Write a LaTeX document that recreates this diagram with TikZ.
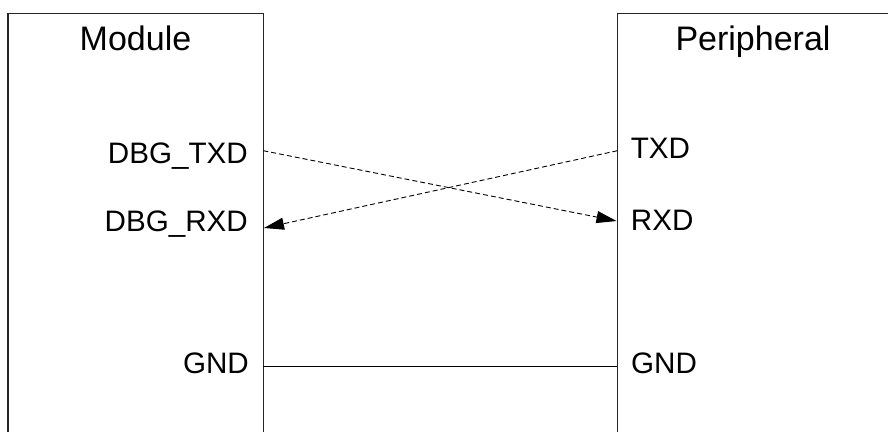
\documentclass[tikz,border=0pt]{standalone}
\usepackage{fontspec}
\setmainfont{Liberation Sans}
\usetikzlibrary{arrows.meta}
\begin{document}
\begin{tikzpicture}[x=1bp,y=-1bp,
  boxline/.style={line width=1.2bp, draw=black!85},
  title/.style={inner sep=0pt, font=\fontsize{34bp}{40bp}\selectfont},
  pin/.style={inner sep=0pt, font=\fontsize{29.6bp}{35bp}\selectfont},
  sig/.style={line width=0.9bp, dash pattern=on 5bp off 3bp, -{Triangle[length=20bp,width=12bp]}},
  gndline/.style={line width=1bp}]
\useasboundingbox (0,0) rectangle (888,431);
% boxes
\draw[boxline] (8,433) -- (8,13.5) -- (263.3,13.5) -- (263.3,433);
\draw[boxline] (617.3,433) -- (617.3,13.5) -- (890,13.5);
% titles
\node[title, anchor=base] (mod) at (135.5,50) {Module};
\node[title, anchor=base] (per) at (753,50) {Peripheral};
% pin labels
\node[pin, anchor=base east] (ltx) at (248,163) {DBG\_TXD};
\node[pin, anchor=base east] (lrx) at (248,231) {DBG\_RXD};
\node[pin, anchor=base east] (lgnd) at (249,373) {GND};
\node[pin, anchor=base west] (rtx) at (630.7,158) {TXD};
\node[pin, anchor=base west] (rrx) at (630.7,230) {RXD};
\node[pin, anchor=base west] (rgnd) at (631,373) {GND};
% pin points
\coordinate (pltx) at (263.3,150.7);
\coordinate (plrx) at (264,228);
\coordinate (plgnd) at (263.3,366.5);
\coordinate (prtx) at (617.3,150.7);
\coordinate (prrx) at (616.5,221);
\coordinate (prgnd) at (617.3,366.5);
% connectors
\draw[sig] (pltx) -- (prrx);
\draw[sig] (prtx) -- (plrx);
\draw[gndline] (plgnd) -- (prgnd);
\end{tikzpicture}
\end{document}
